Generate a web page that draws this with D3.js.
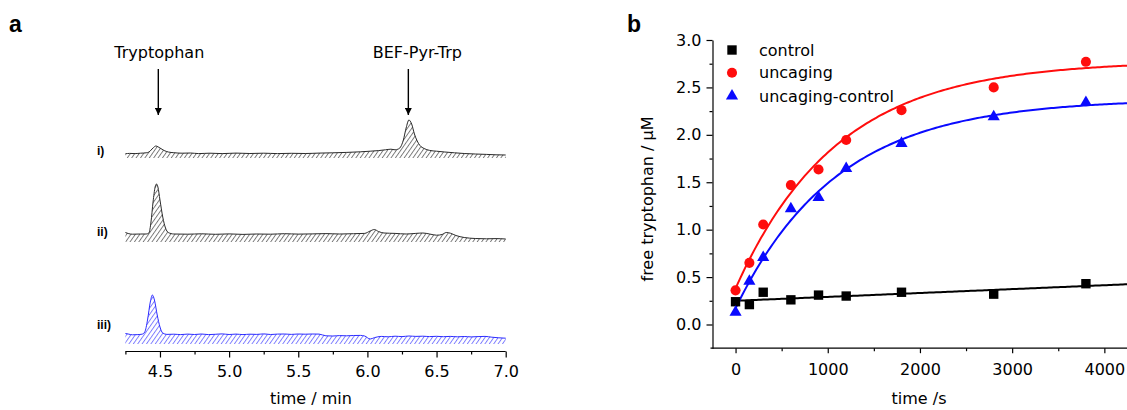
<!DOCTYPE html>
<html>
<head>
<meta charset="utf-8">
<script src="https://cdn.jsdelivr.net/npm/d3@7"></script>
<style>
  html, body { margin: 0; padding: 0; background: #fff; }
  svg { display: block; }
  text { font-family: "DejaVu Sans", "Liberation Sans", Arial, sans-serif; fill: #000; }
</style>
</head>
<body>
<svg id="chart" width="1127" height="410"></svg>
<script>
// ---------- Panel a: HPLC traces (time in min, detector signal in arbitrary units) ----------
const traceI = [
  [4.25, 4.2], [4.28, 4.6], [4.32, 4.4], [4.36, 4.8], [4.40, 5.2], [4.42, 6.0], [4.45, 10.0],
  [4.47, 12.0], [4.50, 10.0], [4.53, 7.5], [4.56, 6.0], [4.60, 5.3], [4.66, 4.8], [4.72, 5.0],
  [4.78, 4.4], [4.86, 4.8], [4.95, 4.4], [5.05, 4.9], [5.15, 4.5], [5.25, 4.8], [5.35, 4.4],
  [5.45, 4.7], [5.55, 4.5], [5.65, 4.9], [5.75, 5.2], [5.85, 5.6], [5.95, 6.2], [6.02, 6.8],
  [6.08, 7.4], [6.13, 8.2], [6.17, 8.8], [6.20, 8.2], [6.22, 8.8], [6.24, 11.0], [6.26, 18.0],
  [6.28, 30.0], [6.30, 38.0], [6.32, 34.0], [6.34, 24.0], [6.36, 17.0], [6.38, 12.5],
  [6.41, 9.5], [6.45, 7.6], [6.50, 6.8], [6.56, 6.0], [6.63, 5.2], [6.70, 4.5], [6.78, 4.0],
  [6.86, 3.6], [6.93, 3.2], [7.00, 3.0]
];
const traceII = [
  [4.25, 9.5], [4.27, 8.5], [4.30, 7.8], [4.36, 8.0], [4.40, 8.0], [4.42, 9.0], [4.435, 20.0],
  [4.45, 40.0], [4.465, 55.0], [4.475, 58.0], [4.485, 55.0], [4.50, 42.0], [4.52, 25.0],
  [4.54, 14.0], [4.56, 9.5], [4.60, 8.0], [4.70, 7.8], [4.80, 8.2], [4.90, 7.7], [5.00, 8.1],
  [5.10, 7.6], [5.20, 8.0], [5.30, 7.8], [5.40, 8.3], [5.50, 7.9], [5.60, 8.1], [5.70, 8.4],
  [5.80, 8.0], [5.90, 8.3], [5.98, 8.6], [6.02, 11.0], [6.05, 12.5], [6.08, 10.5], [6.12, 9.0],
  [6.20, 8.6], [6.28, 8.0], [6.35, 8.6], [6.40, 9.0], [6.45, 8.0], [6.50, 6.8], [6.54, 7.5],
  [6.57, 9.5], [6.60, 8.8], [6.64, 6.5], [6.70, 4.5], [6.78, 3.5], [6.86, 3.2], [6.93, 3.4],
  [7.00, 3.0]
];
const traceIII = [
  [4.25, 10.5], [4.27, 10.0], [4.30, 9.2], [4.34, 9.4], [4.37, 9.8], [4.39, 12.0], [4.41, 24.0],
  [4.43, 42.0], [4.445, 49.0], [4.46, 44.0], [4.48, 29.0], [4.50, 17.0], [4.52, 11.0],
  [4.55, 9.6], [4.60, 9.8], [4.65, 9.4], [4.70, 9.9], [4.75, 9.5], [4.80, 10.0], [4.85, 9.4],
  [4.90, 9.7], [4.95, 10.1], [5.00, 9.5], [5.05, 9.9], [5.10, 9.4], [5.15, 9.8], [5.20, 9.6],
  [5.25, 10.1], [5.30, 9.5], [5.35, 9.9], [5.40, 10.0], [5.45, 9.6], [5.50, 10.0], [5.55, 9.8],
  [5.60, 10.0], [5.65, 9.9], [5.70, 8.2], [5.75, 8.0], [5.80, 8.4], [5.85, 8.2], [5.90, 8.5],
  [5.95, 8.6], [5.98, 8.0], [6.02, 5.0], [6.05, 6.3], [6.10, 7.6], [6.15, 7.2], [6.20, 7.8],
  [6.25, 7.4], [6.30, 8.0], [6.35, 7.6], [6.40, 7.8], [6.45, 7.4], [6.50, 7.7], [6.55, 7.3],
  [6.60, 7.6], [6.65, 7.2], [6.70, 7.5], [6.75, 7.1], [6.80, 7.4], [6.85, 7.6], [6.90, 6.8],
  [6.95, 6.2], [7.00, 5.8]
];
const traceLabels = ["i)", "ii)", "iii)"];
const peakNames = ["Tryptophan", "BEF-Pyr-Trp"];
const peakTimes = [4.488, 6.296];
const timeMinTicks = [4.5, 5.0, 5.5, 6.0, 6.5, 7.0];

// ---------- Panel b: free tryptophan release ----------
const timeS = [0, 150, 300, 600, 900, 1200, 1800, 2800, 3800];
const control = [0.24, 0.21, 0.34, 0.26, 0.31, 0.30, 0.34, 0.32, 0.43];
const uncaging = [0.36, 0.65, 1.055, 1.47, 1.635, 1.945, 2.26, 2.50, 2.77];
const uncagingControl = [0.13, 0.457, 0.707, 1.22, 1.34, 1.645, 1.91, 2.19, 2.34];
const seriesNames = ["control", "uncaging", "uncaging-control"];
const timeSTicks = [0, 1000, 2000, 3000, 4000];
const concTicks = [0.0, 0.5, 1.0, 1.5, 2.0, 2.5, 3.0];

// fitted models: linear drift for control, single exponential rise for the others
const fitControl = { intercept: 0.25, slope: 0.000041 };
const fitUncaging = { y0: 0.38, plateau: 2.78, tau: 1100 };
const fitUncagingControl = { y0: 0.17, plateau: 2.38, tau: 1100 };

const svg = d3.select("#chart");
const defs = svg.append("defs");

function hatch(id, color) {
  const p = defs.append("pattern")
    .attr("id", id)
    .attr("patternUnits", "userSpaceOnUse")
    .attr("width", 3.6).attr("height", 6)
    .attr("patternTransform", "rotate(35)");
  p.append("line")
    .attr("x1", 0.5).attr("y1", 0).attr("x2", 0.5).attr("y2", 6)
    .attr("stroke", color).attr("stroke-width", 0.8);
}
hatch("hatchGray", "#555");
hatch("hatchBlue", "#5a5aff");

// ================= Panel a =================
const xa = d3.scaleLinear().domain([4.25, 7.0]).range([125.4, 505.7]);
const axisAY = 351.5;

const traces = [
  { data: traceI, bottom: 158, line: "#2a2a2a", fill: "url(#hatchGray)", label: traceLabels[0], ly: 155 },
  { data: traceII, bottom: 242, line: "#2a2a2a", fill: "url(#hatchGray)", label: traceLabels[1], ly: 236 },
  { data: traceIII, bottom: 344, line: "#2b2bff", fill: "url(#hatchBlue)", label: traceLabels[2], ly: 329 }
];

const ga = svg.append("g");
traces.forEach(tr => {
  const ys = d3.scaleLinear().domain([0, 60]).range([tr.bottom, tr.bottom - 60]);
  const area = d3.area().x(d => xa(d[0])).y0(ys(0)).y1(d => ys(d[1])).curve(d3.curveMonotoneX);
  const line = d3.line().x(d => xa(d[0])).y(d => ys(d[1])).curve(d3.curveMonotoneX);
  ga.append("path").datum(tr.data).attr("d", area).attr("fill", tr.fill);
  ga.append("path").datum(tr.data).attr("d", line)
    .attr("fill", "none").attr("stroke", tr.line).attr("stroke-width", 1);
  ga.append("text").attr("x", 97).attr("y", tr.ly)
    .style("font-family", "'Liberation Sans', Arial, sans-serif")
    .style("font-weight", "bold").style("font-size", "12px").text(tr.label);
});

// peak annotations with arrows
defs.append("marker").attr("id", "arrowHead")
  .attr("viewBox", "0 0 10 10").attr("refX", 10).attr("refY", 5)
  .attr("markerUnits", "userSpaceOnUse").attr("markerWidth", 11).attr("markerHeight", 7)
  .attr("orient", "auto")
  .append("path").attr("d", "M0,0 L10,5 L0,10 Z").attr("fill", "#000");

peakNames.forEach((name, i) => {
  const px = xa(peakTimes[i]);
  ga.append("text").attr("x", px + (i === 0 ? 1 : 9)).attr("y", 58)
    .attr("text-anchor", "middle").style("font-size", "16px").text(name);
  ga.append("line").attr("x1", px).attr("x2", px).attr("y1", 69).attr("y2", 115)
    .attr("stroke", "#000").attr("stroke-width", 1.4).attr("marker-end", "url(#arrowHead)");
});

// time axis (min)
const axA = ga.append("g").attr("transform", `translate(0,${axisAY})`);
axA.call(d3.axisBottom(xa).tickValues(timeMinTicks).tickSize(6).tickPadding(8)
  .tickFormat(d3.format(".1f")));
axA.append("g").call(d3.axisBottom(xa).tickValues(d3.range(4.25, 7.0, 0.5)).tickSize(3).tickFormat(""))
  .select(".domain").remove();
axA.selectAll(".domain").attr("d", `M${xa(4.25)},0H${xa(7.0)}`);
axA.selectAll("path,line").attr("stroke", "#000").attr("stroke-width", 1.2);
axA.selectAll("text").style("font-size", "16px").style("font-family", "'DejaVu Sans', sans-serif");
ga.append("text").attr("x", 311).attr("y", 404).attr("text-anchor", "middle")
  .style("font-size", "16px").text("time / min");

// panel letters
svg.append("text").attr("x", 9).attr("y", 32)
  .style("font-family", "'Liberation Sans', Arial, sans-serif")
  .style("font-weight", "bold").style("font-size", "23px").text("a");
svg.append("text").attr("x", 627).attr("y", 32)
  .style("font-family", "'Liberation Sans', Arial, sans-serif")
  .style("font-weight", "bold").style("font-size", "23px").text("b");

// ================= Panel b =================
const xb = d3.scaleLinear().domain([-250, 4250]).range([712.5, 1127.4]);
const yb = d3.scaleLinear().domain([-0.25, 3.0]).range([348.2, 40]);
const gb = svg.append("g");

// y axis
const axY = gb.append("g").attr("transform", `translate(${xb(-250)},0)`);
axY.call(d3.axisLeft(yb).tickValues(concTicks).tickSize(6).tickPadding(5)
  .tickFormat(d3.format(".1f")).tickSizeOuter(0));
axY.append("g").call(d3.axisLeft(yb).tickValues(d3.range(0.25, 3.0, 0.5)).tickSize(3).tickFormat(""))
  .select(".domain").remove();
// x axis
const axX = gb.append("g").attr("transform", `translate(0,${yb(-0.25)})`);
axX.call(d3.axisBottom(xb).tickValues(timeSTicks).tickSize(5).tickPadding(10)
  .tickFormat(d3.format("d")).tickSizeOuter(0));
axX.append("g").call(d3.axisBottom(xb).tickValues(d3.range(500, 4250, 1000)).tickSize(3).tickFormat(""))
  .select(".domain").remove();
axX.select(".domain").attr("d", `M${xb(-250) - 2},0H${xb(4250)}`);
gb.selectAll("path,line").attr("stroke", "#000").attr("stroke-width", 1.2);
gb.selectAll("text").style("font-size", "16px").style("font-family", "'DejaVu Sans', sans-serif");

gb.append("text").attr("transform", `translate(653,199) rotate(-90)`)
  .attr("text-anchor", "middle").style("font-size", "16px").text("free tryptophan / \u00B5M");
gb.append("text").attr("x", 919).attr("y", 404).attr("text-anchor", "middle")
  .style("font-size", "16px").text("time /s");

// fitted curves
const tGrid = d3.range(0, 4250 + 1, 25);
const expRise = f => t => f.plateau - (f.plateau - f.y0) * Math.exp(-t / f.tau);
const linFit = f => t => f.intercept + f.slope * t;
const fits = [
  { fn: linFit(fitControl), color: "#000" },
  { fn: expRise(fitUncaging), color: "#ff0d0d" },
  { fn: expRise(fitUncagingControl), color: "#0a0aff" }
];
const clip = defs.append("clipPath").attr("id", "plotClip");
clip.append("rect").attr("x", xb(-250)).attr("y", yb(3.0) - 10)
  .attr("width", xb(4250) - xb(-250)).attr("height", yb(-0.25) - yb(3.0) + 10);
const lineB = d3.line().x(d => xb(d[0])).y(d => yb(d[1]));
fits.forEach(f => {
  gb.append("path").datum(tGrid.map(t => [t, f.fn(t)]))
    .attr("d", lineB).attr("fill", "none").attr("stroke", f.color)
    .attr("stroke-width", 2).attr("clip-path", "url(#plotClip)");
});

// data markers
const series = [
  { values: control, symbol: d3.symbolSquare, size: 88, color: "#000" },
  { values: uncaging, symbol: d3.symbolCircle, size: 80, color: "#ff0d0d" },
  { values: uncagingControl, symbol: d3.symbolTriangle, size: 64, color: "#0a0aff" }
];
series.forEach(s => {
  const sym = d3.symbol().type(s.symbol).size(s.size);
  gb.selectAll(null).data(timeS.map((t, i) => [t, s.values[i]])).join("path")
    .attr("d", sym)
    .attr("transform", d => `translate(${xb(d[0])},${yb(d[1])})`)
    .attr("fill", s.color);
});

// legend
const legendRows = [50, 72.7, 96];
series.forEach((s, i) => {
  const sym = d3.symbol().type(s.symbol).size(s.size);
  gb.append("path").attr("d", sym)
    .attr("transform", `translate(732,${legendRows[i]})`).attr("fill", s.color);
  gb.append("text").attr("x", 759).attr("y", legendRows[i] + 5.5)
    .style("font-size", "16px").text(seriesNames[i]);
});
</script>
</body>
</html>
